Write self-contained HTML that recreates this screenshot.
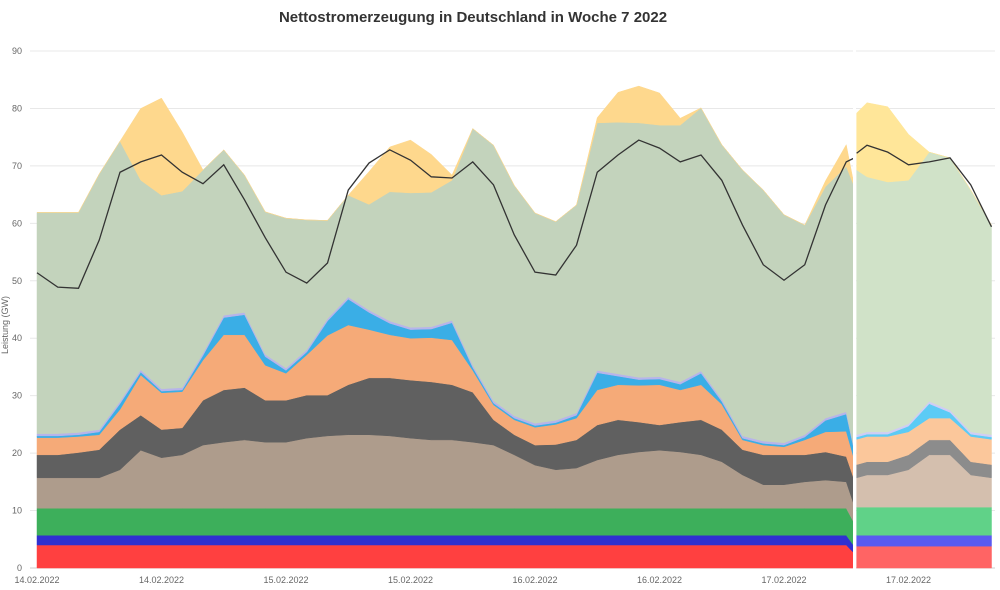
<!DOCTYPE html>
<html><head><meta charset="utf-8">
<style>
html,body{margin:0;padding:0;background:#fff;}
svg{display:block;font-family:"Liberation Sans",sans-serif;}
</style></head>
<body>
<svg id="chart" width="1000" height="590" viewBox="0 0 1000 590" xmlns="http://www.w3.org/2000/svg">
<text x="473" y="22" text-anchor="middle" font-size="15" font-weight="bold" fill="#333">Nettostromerzeugung in Deutschland in Woche 7 2022</text>
<text transform="translate(8,325) rotate(-90)" text-anchor="middle" font-size="9" fill="#666">Leistung (GW)</text>
<g id="grid"></g><g id="areas"></g><g id="lines"></g><g id="axes"></g>
</svg>
<script>
const times = [0,2,4,6,8,10,12,14,16,18,20,22,24,26,28,30,32,34,36,38,40,42,44,46,48,50,52,54,56,58,60,62,64,66,68,70,72,74,76,78,78.8];
const nuclear = [4,4,4,4,4,4,4,4,4,4,4,4,4,4,4,4,4,4,4,4,4,4,4,4,4,4,4,4,4,4,4,4,4,4,4,4,4,4,4,4,2.5];
const hydro = [1.7,1.7,1.7,1.7,1.7,1.7,1.7,1.7,1.7,1.7,1.7,1.7,1.7,1.7,1.7,1.7,1.7,1.7,1.7,1.7,1.7,1.7,1.7,1.7,1.7,1.7,1.7,1.7,1.7,1.7,1.7,1.7,1.7,1.7,1.7,1.7,1.7,1.7,1.7,1.7,1.2];
const biomass = [4.7,4.7,4.7,4.7,4.7,4.7,4.7,4.7,4.7,4.7,4.7,4.7,4.7,4.7,4.7,4.7,4.7,4.7,4.7,4.7,4.7,4.7,4.7,4.7,4.7,4.7,4.7,4.7,4.7,4.7,4.7,4.7,4.7,4.7,4.7,4.7,4.7,4.7,4.7,4.7,4.0];
const lignite = [5.3,5.3,5.3,5.3,6.7,10.1,8.8,9.3,11.0,11.5,11.9,11.5,11.5,12.2,12.6,12.8,12.8,12.6,12.2,11.9,11.9,11.5,11.0,9.3,7.5,6.7,7.0,8.4,9.3,9.8,10.1,9.8,9.3,8.1,5.8,4.1,4.1,4.6,4.9,4.6,3.0];
const hardCoal = [4.0,4.0,4.4,4.9,7.0,6.1,4.9,4.7,7.8,9.1,9.1,7.3,7.3,7.5,7.1,8.7,9.9,10.1,10.1,10.1,9.6,8.7,4.4,3.5,3.5,4.4,4.9,6.1,6.1,5.2,4.4,5.2,6.1,5.6,4.4,5.2,5.2,4.7,4.9,4.4,4.5];
const gas = [3.0,3.0,2.8,2.6,3.5,7.0,6.4,6.3,7.0,9.6,9.2,6.1,4.7,7.0,10.4,10.4,8.4,7.5,7.3,7.7,7.8,3.8,2.6,2.6,3.1,3.5,3.8,6.1,6.1,6.4,7.0,5.6,6.1,4.4,1.7,1.7,1.4,2.6,3.5,4.4,3.5];
const pumped = [0.3,0.3,0.3,0.5,1.0,0.5,0.3,0.3,0.8,3.0,3.5,1.5,0.5,0.5,2.5,4.5,3.0,2.0,1.5,1.5,3.0,0.5,0.3,0.3,0.3,0.3,0.5,3.0,1.5,1.0,1.0,1.0,2.0,0.5,0.3,0.3,0.3,0.5,2.0,3.0,1.5];
const other = [0.4,0.4,0.4,0.4,0.4,0.4,0.4,0.4,0.4,0.4,0.4,0.4,0.4,0.4,0.4,0.4,0.4,0.4,0.4,0.4,0.4,0.4,0.4,0.4,0.4,0.4,0.4,0.4,0.4,0.4,0.4,0.4,0.4,0.4,0.4,0.4,0.4,0.4,0.4,0.4,0.3];
const wind = [38.5,38.5,38.3,44.5,45.3,33.0,33.7,34.2,31.9,28.8,23.9,24.8,26.1,22.6,17.1,17.7,18.4,22.5,23.4,23.4,24.4,41.2,44.5,40.1,36.6,34.6,36.2,43.1,43.8,44.3,43.8,44.7,45.8,44.3,46.3,43.7,39.7,36.5,40.3,42.7,45.8];
const solar = [0,0,0,0,0,12.5,16.9,10.3,0,0,0,0,0,0,0,0,5.7,7.8,9.2,6.6,0.9,0,0,0,0,0,0,0.9,5.2,6.4,5.6,1.2,0,0,0,0,0,0,1.0,3.8,0];
const load = [51.4,48.9,48.7,57.1,68.9,70.7,71.9,68.9,66.9,70.2,64.1,57.5,51.5,49.6,53.1,65.8,70.5,72.8,71.0,68.1,67.9,70.7,66.7,58.0,51.5,51.0,56.2,68.9,71.9,74.5,73.1,70.7,71.9,67.5,59.7,52.8,50.1,52.8,63.2,70.7,71.4];

const fTimes = [79,80,82,84,86,88,90,92];
const fNuclear = [3.8,3.8,3.8,3.8,3.8,3.8,3.8,3.8];
const fHydro = [1.9,1.9,1.9,1.9,1.9,1.9,1.9,1.9];
const fBiomass = [4.9,4.9,4.9,4.9,4.9,4.9,4.9,4.9];
const fLignite = [5.1,5.6,5.6,6.5,9.1,9.1,5.6,5.1];
const fHardCoal = [2.3,2.3,2.3,2.6,2.6,2.6,2.3,2.3];
const fGas = [4.4,4.4,4.4,4.0,3.8,3.8,4.4,4.4];
const fPumped = [0.4,0.4,0.4,1.0,2.5,1.0,0.4,0.4];
const fOther = [0.4,0.4,0.4,0.4,0.4,0.4,0.4,0.4];
const fWind = [46.1,44.4,43.5,42.4,43.4,43.9,42.1,36.5];
const fSolar = [9.9,12.9,13.1,8.0,0,0,0,0];
const fLoad = [72.2,73.6,72.4,70.2,70.7,71.4,66.7,59.4];

const yTicks = [0,10,20,30,40,50,60,70,80,90];
const xTickHours = [0,12,24,36,48,60,72,84];
const xTickLabels = ["14.02.2022","14.02.2022","15.02.2022","15.02.2022","16.02.2022","16.02.2022","17.02.2022","17.02.2022"];

const NS="http://www.w3.org/2000/svg";
function xS(h){return 37+h*10.375;}
function yS(v){return 568-v*5.744;}
function mk(tag,attrs,parent){const e=document.createElementNS(NS,tag);for(const k in attrs)e.setAttribute(k,attrs[k]);parent.appendChild(e);return e;}

const grid=document.getElementById('grid'),areas=document.getElementById('areas'),lines=document.getElementById('lines'),axes=document.getElementById('axes');
yTicks.forEach(t=>{
  const l=mk('line',{x1:30,x2:995,y1:yS(t),y2:yS(t),stroke:t===0?'#ccc':'#e8e8e8','stroke-width':1},grid);
  
  
  const tx=mk('text',{x:22,y:yS(t)+3,'text-anchor':'end','font-size':9,fill:'#666'},axes);
  tx.textContent=t;
  
  
});
xTickHours.forEach((h,i)=>{
  const tx=mk('text',{x:xS(h),y:583,'text-anchor':'middle','font-size':9,fill:'#666'},axes);
  tx.textContent=xTickLabels[i];
  
  
});

function drawStack(ts,series,colors,names,prefix){
  let base=ts.map(()=>0);
  series.forEach((s,k)=>{
    const top=base.map((b,i)=>b+s[i]);
    let d='M'+ts.map((t,i)=>xS(t)+','+yS(top[i])).join('L');
    for(let i=ts.length-1;i>=0;i--)d+='L'+xS(ts[i])+','+yS(base[i]);
    d+='Z';
    const p=mk('path',{d:d,fill:colors[k],stroke:colors[k],'stroke-width':0.5},areas);
    
    
    base=top;
  });
}
const names=['nuclear-area','hydro-area','biomass-area','lignite-area','hard-coal-area','gas-area','pumped-storage-area','other-area','wind-area','solar-area'];
drawStack(times,[nuclear,hydro,biomass,lignite,hardCoal,gas,pumped,other,wind,solar],
 ['#ff4040','#3030d0','#3daf5b','#ae9c8c','#606060','#f5aa78','#3aaee6','#b7b4ea','#c3d3bc','#fed88d'],names,'');
drawStack(fTimes,[fNuclear,fHydro,fBiomass,fLignite,fHardCoal,fGas,fPumped,fOther,fWind,fSolar],
 ['#ff6464','#5a5af0','#60d288','#d4bfae','#8c8c8c','#fbc79b','#5ccbf5','#cfcdf5','#d0e2c8','#ffe699'],names,'forecast-');

function drawLine(ts,vals,name){
  const p=mk('path',{d:'M'+ts.map((t,i)=>xS(t)+','+yS(vals[i])).join('L'),fill:'none',stroke:'#333','stroke-width':1.3},lines);
  
  
}
drawLine(times,load,'load-line');
drawLine(fTimes,fLoad,'forecast-load-line');
const sep=mk('rect',{x:853,y:40,width:3,height:530,fill:'#fff'},lines);


</script>
</body></html>
